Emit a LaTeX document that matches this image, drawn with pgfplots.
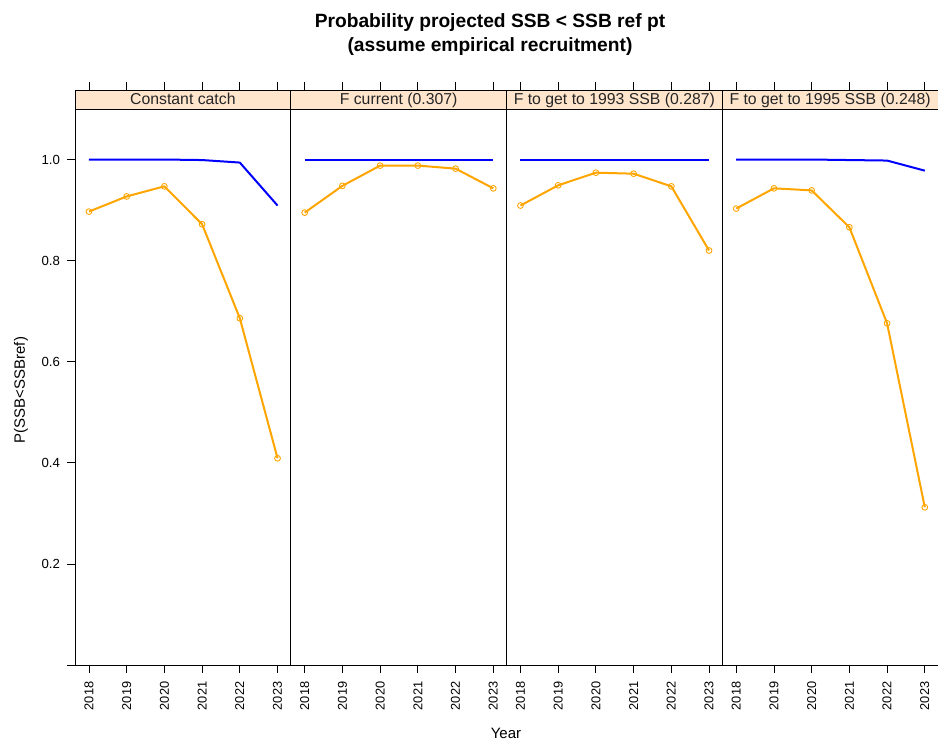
\documentclass[border=0pt]{standalone}
\usepackage{fontspec}
\setmainfont{Liberation Sans}
\usepackage{pgfplots}
\pgfplotsset{compat=1.18}
\definecolor{stripbg}{HTML}{FFE5CC}
\definecolor{lorange}{HTML}{FFA500}
\definecolor{lblue}{HTML}{0000FF}

\newcommand{\strip}[1]{%
  \draw[black, line width=0.8pt, fill=stripbg] (rel axis cs:0,1) rectangle ([yshift=19pt]rel axis cs:1,1);
  \node[anchor=base, font=\fontsize{15.8}{17}\selectfont, inner sep=0pt, text=black!85] at ([yshift=4.2pt]rel axis cs:0.5,1) {#1};
  \foreach \r in {0.06469,0.23951,0.41434,0.58916,0.76399,0.93881} {\draw[black, line width=0.8pt] ([yshift=19pt]rel axis cs:\r,1) -- ([yshift=26.5pt]rel axis cs:\r,1);}
}

\pgfplotsset{panel/.style={
  width=215.75pt, height=556pt, scale only axis,
  anchor=south west,
  xmin=2017.63, xmax=2023.35, ymin=0, ymax=1.1,
  xtick={2018,2019,2020,2021,2022,2023},
  xticklabels={2018,2019,2020,2021,2022,2023},
  xtick pos=bottom, tick align=outside,
  major tick length=8pt,
  xticklabel shift=6.5pt,
  yticklabel shift=3.5pt,
  x tick label style={rotate=90, anchor=east, font=\fontsize{12.8}{14}\selectfont, inner sep=2pt},
  y tick label style={font=\fontsize{13.2}{14}\selectfont},
  axis line style={black, line width=0.8pt},
  every tick/.style={black, line width=0.8pt},
  /pgf/number format/assume math mode=true,
}}

\pgfplotsset{sblue/.style={lblue, line width=2pt, no markers, line join=round},
  sorange/.style={lorange, line width=2pt, line join=round, mark=o, mark size=2.9pt, mark options={line width=0.9pt}}}

\begin{document}
\begin{tikzpicture}
\useasboundingbox (0pt,0pt) rectangle (938pt,742pt);

% Panel 1
\begin{axis}[panel, at={(75pt,77pt)},
  ytick={0,0.2,0.4,0.6,0.8,1.0}, yticklabels={,0.2,0.4,0.6,0.8,1.0}, ytick pos=left,
  after end axis/.code={\strip{Constant catch}}]
\addplot[sblue] coordinates {(2018,1.0) (2019,1.0) (2020,1.0) (2021,0.999) (2022,0.994) (2023,0.909)};
\addplot[sorange] coordinates {(2018,0.897) (2019,0.927) (2020,0.947) (2021,0.872) (2022,0.686) (2023,0.409)};
\end{axis}

% Panel 2
\begin{axis}[panel, at={(290.75pt,77pt)}, ytick=\empty,
  after end axis/.code={\strip{F current (0.307)}}]
\addplot[sblue] coordinates {(2018,1.0) (2019,1.0) (2020,1.0) (2021,1.0) (2022,1.0) (2023,1.0)};
\addplot[sorange] coordinates {(2018,0.895) (2019,0.948) (2020,0.988) (2021,0.988) (2022,0.982) (2023,0.943)};
\end{axis}

% Panel 3
\begin{axis}[panel, at={(506.5pt,77pt)}, ytick=\empty,
  after end axis/.code={\strip{F to get to 1993 SSB (0.287)}}]
\addplot[sblue] coordinates {(2018,1.0) (2019,1.0) (2020,1.0) (2021,1.0) (2022,1.0) (2023,1.0)};
\addplot[sorange] coordinates {(2018,0.909) (2019,0.949) (2020,0.974) (2021,0.972) (2022,0.947) (2023,0.820)};
\end{axis}

% Panel 4
\begin{axis}[panel, at={(722.25pt,77pt)},
  ytick={0,0.2,0.4,0.6,0.8,1.0}, yticklabels={}, ytick pos=right,
  after end axis/.code={\strip{F to get to 1995 SSB (0.248)}}]
\addplot[sblue] coordinates {(2018,1.0) (2019,1.0) (2020,1.0) (2021,0.999) (2022,0.998) (2023,0.978)};
\addplot[sorange] coordinates {(2018,0.903) (2019,0.943) (2020,0.939) (2021,0.866) (2022,0.676) (2023,0.312)};
\end{axis}

% Titles and labels
\node[anchor=base, font=\fontsize{19.2}{22}\selectfont\bfseries] at (490pt,714pt) {Probability projected SSB < SSB ref pt};
\node[anchor=base, font=\fontsize{19.2}{22}\selectfont\bfseries] at (490pt,690.5pt) {(assume empirical recruitment)};
\node[anchor=base, font=\fontsize{15}{17}\selectfont] at (506pt,3pt) {Year};
\node[rotate=90, font=\fontsize{15}{17}\selectfont] at (21pt,352pt) {P(SSB<SSBref)};
\end{tikzpicture}
\end{document}
